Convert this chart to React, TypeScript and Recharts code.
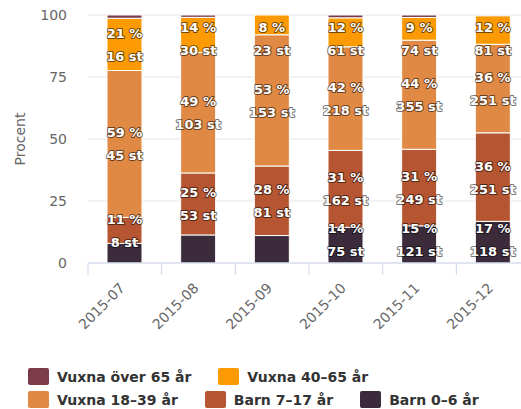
import { Bar, BarChart, CartesianGrid, LabelList, XAxis, YAxis } from "recharts"

const months = ['2015-07', '2015-08', '2015-09', '2015-10', '2015-11', '2015-12']
const barn0to6 = [6, 24, 32, 75, 121, 118]
const barn7to17 = [8, 53, 81, 162, 249, 251]
const vuxna18to39 = [45, 103, 153, 218, 355, 251]
const vuxna40to65 = [16, 30, 23, 61, 74, 81]
const vuxnaOver65 = [1, 2, 0, 6, 8, 2]
const yTicks = [0, 25, 50, 75, 100]

// stacking order, bottom to top
const series = [
  { key: 'barn0to6', name: 'Barn 0–6 år', color: '#3b2b3b', values: barn0to6 },
  { key: 'barn7to17', name: 'Barn 7–17 år', color: '#b65531', values: barn7to17 },
  { key: 'vuxna18to39', name: 'Vuxna 18–39 år', color: '#e08945', values: vuxna18to39 },
  { key: 'vuxna40to65', name: 'Vuxna 40–65 år', color: '#fb9a02', values: vuxna40to65 },
  { key: 'vuxnaOver65', name: 'Vuxna över 65 år', color: '#7b3b4a', values: vuxnaOver65 },
]

const legendRows = [
  ['vuxnaOver65', 'vuxna40to65'],
  ['vuxna18to39', 'barn7to17', 'barn0to6'],
]

const data = months.map((month, i) => {
  const row: any = { month }
  series.forEach(s => { row[s.key] = s.values[i] })
  return row
})

const CHART_W = 540
const CHART_H = 350
const PLOT_TOP = 15
const PLOT_BOTTOM = 263
const PLOT_LEFT = 88
const PLOT_RIGHT = 530
const BAND = (PLOT_RIGHT - PLOT_LEFT) / months.length
const PX_PER_PCT = (PLOT_BOTTOM - PLOT_TOP) / 100
const LABEL_HALF = 20 // px

const clampCenter = (c: number) =>
  Math.min(Math.max(c, PLOT_TOP + 23), PLOT_BOTTOM - 24)

// which labels survive overlap (bigger values win), like highcharts does
const visible: Record<string, boolean> = {}
months.forEach((_, i) => {
  const total = series.reduce((a, s) => a + s.values[i], 0)
  let acc = 0
  const items = series.map(s => {
    const lo = acc
    acc += s.values[i]
    const mid = (lo + acc) / 2 / total * 100
    const center = clampCenter(PLOT_BOTTOM - mid * PX_PER_PCT)
    return { key: s.key, v: s.values[i], center }
  })
  const placed: number[] = []
  ;[...items].sort((a, b) => b.v - a.v).forEach(it => {
    if (it.v <= 0) return
    if (placed.some(c => Math.abs(c - it.center) < LABEL_HALF * 2)) return
    placed.push(it.center)
    visible[it.key + i] = true
  })
})

const makeLabel = (key: string) => (props: any) => {
  const { x, y, width, height, index } = props
  if (!visible[key + index]) return null
  const row = data[index]
  const total = series.reduce((a, s) => a + row[s.key], 0)
  const pct = Math.round(row[key] / total * 100)
  const cx = x + width / 2
  const cy = clampCenter(y + height / 2)
  const style: any = {
    fill: '#fff',
    stroke: '#000',
    strokeOpacity: 0.55,
    strokeWidth: 2,
    strokeLinejoin: 'round',
    paintOrder: 'stroke',
    fontWeight: 'bold',
    fontSize: 13,
    fontFamily: 'DejaVu Sans',
  }
  return (
    <g>
      <text x={cx} y={cy - 11} textAnchor="middle" dominantBaseline="central" style={style}>{pct} %</text>
      <text x={cx} y={cy + 12} textAnchor="middle" dominantBaseline="central" style={style}>{row[key]} st</text>
    </g>
  )
}

const XTick = (props: any) => {
  const { x, y, payload } = props
  const ax = x + 1
  const ay = y + 26
  return (
    <g>
      <line x1={x - BAND / 2} x2={x - BAND / 2} y1={y} y2={y + 12} stroke="#ccd6eb" />
      <text x={ax} y={ay} textAnchor="end" transform={`rotate(-45 ${ax} ${ay})`}
        fill="#666" fontSize={14} fontFamily="DejaVu Sans">{payload.value}</text>
    </g>
  )
}

const App = () => {
  return (
    <div style={{ position: 'absolute', left: 0, top: 0, width: 521, height: 409, overflow: 'hidden', background: '#fff' }}>
      <BarChart width={CHART_W} height={CHART_H} data={data} stackOffset="expand"
        margin={{ top: PLOT_TOP, right: CHART_W - PLOT_RIGHT, left: 0, bottom: 0 }}>
        <CartesianGrid vertical={false} stroke="#e6e6e6" />
        <XAxis dataKey="month" height={CHART_H - PLOT_BOTTOM} tickSize={0} tickMargin={0}
          axisLine={{ stroke: '#ccd6eb' }} tick={<XTick />} interval={0} />
        <YAxis width={PLOT_LEFT} domain={[0, 1]} ticks={yTicks.map(t => t / 100)}
          tickFormatter={(v: number) => String(Math.round(v * 100))}
          axisLine={false} tickLine={false} tickSize={0} tickMargin={21}
          tick={{ fill: '#666', fontSize: 14, fontFamily: 'DejaVu Sans' }}
          label={{
            content: () => (
              <text x={20} y={139} transform="rotate(-90 20 139)" textAnchor="middle"
                dominantBaseline="central" fill="#666" fontSize={14} fontFamily="DejaVu Sans">Procent</text>
            ),
          }} />
        {series.map(s => (
          <Bar key={s.key} dataKey={s.key} name={s.name} stackId="a" fill={s.color}
            stroke="#fff" strokeWidth={1} barSize={35} isAnimationActive={false}>
            <LabelList dataKey={s.key} content={makeLabel(s.key)} />
          </Bar>
        ))}
      </BarChart>
      <div style={{ position: 'absolute', left: 28, top: 365, fontFamily: 'DejaVu Sans', fontWeight: 'bold', fontSize: 14, color: '#333' }}>
        {legendRows.map((row, ri) => (
          <div key={ri} style={{ display: 'flex', height: 23, alignItems: 'center' }}>
            {row.map(k => {
              const s = series.find(x => x.key === k)!
              return (
                <div key={k} style={{ display: 'flex', alignItems: 'center', marginRight: 27 }}>
                  <div style={{ width: 21, height: 17, background: s.color, borderRadius: 2, marginRight: 8 }} />
                  <span>{s.name}</span>
                </div>
              )
            })}
          </div>
        ))}
      </div>
    </div>
  )
}

export default App
